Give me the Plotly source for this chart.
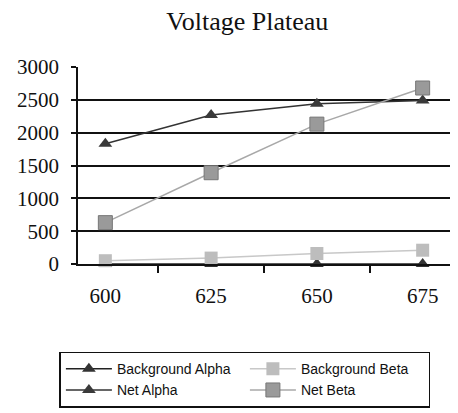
import plotly.graph_objects as go

categories = ["600", "625", "650", "675"]
background_alpha = [0, 0, 0, 0]
background_beta = [50, 90, 160, 210]
net_alpha = [1830, 2270, 2440, 2490]
net_beta = [630, 1390, 2130, 2680]

fig = go.Figure()
fig.add_trace(go.Scatter(x=categories, y=background_alpha, name="Background Alpha",
                         mode="lines+markers", cliponaxis=False,
                         line=dict(color="#222222", width=1.5),
                         marker=dict(symbol="triangle-up", size=12, color="#333333")))
fig.add_trace(go.Scatter(x=categories, y=background_beta, name="Background Beta",
                         mode="lines+markers", cliponaxis=False,
                         line=dict(color="#c8c8c8", width=1.5),
                         marker=dict(symbol="square", size=13, color="#bdbdbd")))
fig.add_trace(go.Scatter(x=categories, y=net_alpha, name="Net Alpha",
                         mode="lines+markers", cliponaxis=False,
                         line=dict(color="#333333", width=1.5),
                         marker=dict(symbol="triangle-up", size=12, color="#3a3a3a")))
fig.add_trace(go.Scatter(x=categories, y=net_beta, name="Net Beta",
                         mode="lines+markers", cliponaxis=False,
                         line=dict(color="#a8a8a8", width=1.5),
                         marker=dict(symbol="square", size=14, color="#9a9a9a",
                                     line=dict(color="#777777", width=1))))

fig.update_layout(
    width=458, height=413,
    margin=dict(l=78, r=8, t=67, b=149, autoexpand=False),
    paper_bgcolor="white", plot_bgcolor="white",
    title=dict(text="Voltage Plateau", x=0.54, xanchor="center", y=0.95, yanchor="middle",
               font=dict(family="Liberation Serif", size=26, color="#111111")),
    font=dict(family="Liberation Serif", size=20, color="#111111"),
    xaxis=dict(type="category", tickson="boundaries", ticks="outside", ticklen=7,
               tickcolor="#111111", tickwidth=1.5, showline=True, linecolor="#111111", linewidth=1.5,
               showgrid=False, ticklabelstandoff=12,
               tickfont=dict(family="Liberation Serif", size=21)),
    yaxis=dict(range=[0, 3000], tickvals=[0, 500, 1000, 1500, 2000, 2500, 3000],
               ticks="outside", ticklen=5, tickcolor="#111111", tickwidth=1.5,
               showline=True, linecolor="#111111", linewidth=1.5,
               showgrid=True, gridcolor="#111111", gridwidth=1.5, zeroline=False,
               ticklabelstandoff=8,
               tickfont=dict(family="Liberation Serif", size=21)),
    legend=dict(orientation="h", x=-0.05, xanchor="left", y=-0.445, yanchor="top",
                entrywidth=123, bordercolor="#111111", borderwidth=1.5,
                font=dict(family="Liberation Sans", size=14, color="#111111"),
                tracegroupgap=0, itemwidth=46),
    showlegend=True,
)

fig.write_html("out.html", config={"displayModeBar": False},
               post_script="document.body.style.margin='0';")
